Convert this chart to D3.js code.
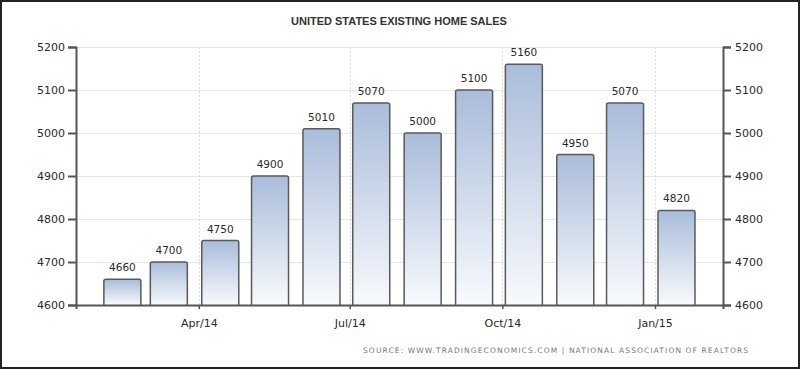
<!DOCTYPE html>
<html>
<head>
<meta charset="utf-8">
<script src="https://cdn.jsdelivr.net/npm/d3@7"></script>
<style>
    body { margin: 0; background: #fff; }
    svg { display: block; }
</style>
</head>
<body>
<svg id="chart" width="800" height="369"></svg>
<script>
// monthly existing home sales (thousands, annualized)
let months = ["2014-02", "2014-03", "2014-04", "2014-05", "2014-06", "2014-07",
              "2014-08", "2014-09", "2014-10", "2014-11", "2014-12", "2015-01"];
let sales = [4660, 4700, 4750, 4900, 5010, 5070, 5000, 5100, 5160, 4950, 5070, 4820];
let yTicks = [4600, 4700, 4800, 4900, 5000, 5100, 5200];
let xTickDates = ["2014-04-01", "2014-07-01", "2014-10-01", "2015-01-01"];
let xTickLabels = ["Apr/14", "Jul/14", "Oct/14", "Jan/15"];

let margin = {top: 47, right: 77, bottom: 64, left: 76};
let width = 800, height = 369;

let svg = d3.select("#chart");
let parseMonth = d3.timeParse("%Y-%m");
let parseDay = d3.timeParse("%Y-%m-%d");

let x = d3.scaleTime()
    .domain([new Date(2014, 0, 17), new Date(2015, 1, 11)])
    .range([margin.left, width - margin.right]);

let y = d3.scaleLinear()
    .domain([4600, 5200])
    .range([height - margin.bottom, margin.top]);

// gradient for bars
let defs = svg.append("defs");
let grad = defs.append("linearGradient")
    .attr("id", "barGrad")
    .attr("x1", 0).attr("y1", 0).attr("x2", 0).attr("y2", 1);
grad.append("stop").attr("offset", "0%").attr("stop-color", "#a9bcda");
grad.append("stop").attr("offset", "100%").attr("stop-color", "#f8fafd");

// outer frame
svg.append("rect")
    .attr("x", 1).attr("y", 1)
    .attr("width", width - 2).attr("height", height - 2)
    .attr("fill", "#fff")
    .attr("stroke", "#222")
    .attr("stroke-width", 2);

// horizontal grid
svg.append("g").selectAll("line").data(yTicks).enter().append("line")
    .attr("x1", margin.left).attr("x2", width - margin.right)
    .attr("y1", d => y(d) + 0.5).attr("y2", d => y(d) + 0.5)
    .attr("stroke", "#e6e6e6").attr("stroke-width", 1);

// vertical grid
let tickDates = xTickDates.map(parseDay);
svg.append("g").selectAll("line").data(tickDates).enter().append("line")
    .attr("x1", d => Math.round(x(d)) + 0.5).attr("x2", d => Math.round(x(d)) + 0.5)
    .attr("y1", margin.top).attr("y2", height - margin.bottom)
    .attr("stroke", "#dcdcdc").attr("stroke-width", 1)
    .attr("stroke-dasharray", "2,2");

// bars
let barW = 37;
let bars = svg.append("g");
months.forEach(function(m, i) {
    let d = parseMonth(m);
    let x0 = x(d) + 3;
    bars.append("path")
        .attr("d", "M" + x0 + "," + y(4600) +
                   " V" + (y(sales[i]) + 2) +
                   " Q" + x0 + "," + y(sales[i]) + " " + (x0 + 2) + "," + y(sales[i]) +
                   " H" + (x0 + barW - 2) +
                   " Q" + (x0 + barW) + "," + y(sales[i]) + " " + (x0 + barW) + "," + (y(sales[i]) + 2) +
                   " V" + y(4600))
        .attr("fill", "url(#barGrad)")
        .attr("stroke", "#5a5a5a")
        .attr("stroke-width", 1.5);
    bars.append("text")
        .attr("x", x0 + barW / 2)
        .attr("y", y(sales[i]) - 8)
        .attr("text-anchor", "middle")
        .attr("font-family", "DejaVu Sans, sans-serif")
        .attr("font-size", 10.5)
        .attr("fill", "#2a2a2a")
        .text(sales[i]);
});

// axes
let axisColor = "#555";
let leftAxis = d3.axisLeft(y).tickValues(yTicks).tickSize(8).tickPadding(3)
    .tickFormat(d3.format("d"));
let rightAxis = d3.axisRight(y).tickValues(yTicks).tickSize(8).tickPadding(4)
    .tickFormat(d3.format("d"));
let bottomAxis = d3.axisBottom(x).tickValues(tickDates).tickSize(4).tickPadding(10)
    .tickFormat((d, i) => xTickLabels[i]);

function styleAxis(g) {
    g.select(".domain").attr("stroke", axisColor).attr("stroke-width", 2);
    g.selectAll(".tick line").attr("stroke", axisColor).attr("stroke-width", 2);
    g.selectAll(".tick text")
        .attr("font-family", "DejaVu Sans, sans-serif")
        .attr("font-size", 11)
        .attr("fill", "#2a2a2a");
}

svg.append("g")
    .attr("transform", "translate(0," + (height - margin.bottom) + ")")
    .call(bottomAxis)
    .call(styleAxis)
    .call(g => g.selectAll(".tick line").attr("stroke-width", 1.5));

svg.append("g")
    .attr("transform", "translate(" + margin.left + ",0)")
    .call(leftAxis)
    .call(styleAxis);

svg.append("g")
    .attr("transform", "translate(" + (width - margin.right) + ",0)")
    .call(rightAxis)
    .call(styleAxis);

// title
svg.append("text")
    .attr("x", 399)
    .attr("y", 25)
    .attr("text-anchor", "middle")
    .attr("font-family", "Liberation Sans, Arial, sans-serif")
    .attr("font-weight", "bold")
    .attr("font-size", 11)
    .attr("fill", "#333")
    .text("UNITED STATES EXISTING HOME SALES");

// source
svg.append("text")
    .attr("x", 748)
    .attr("y", 353)
    .attr("text-anchor", "end")
    .attr("font-family", "DejaVu Sans, sans-serif")
    .attr("font-size", 7.5)
    .attr("fill", "#777")
    .attr("textLength", 385)
    .attr("lengthAdjust", "spacing")
    .text("SOURCE: WWW.TRADINGECONOMICS.COM | NATIONAL ASSOCIATION OF REALTORS");
</script>
</body>
</html>
